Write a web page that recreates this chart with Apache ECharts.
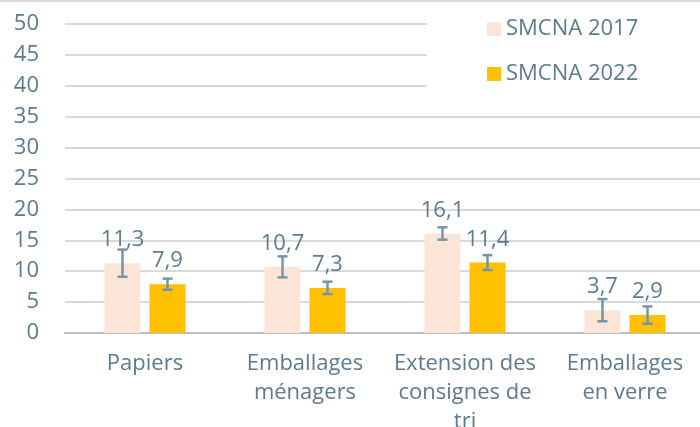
<!DOCTYPE html>
<html>
<head>
<meta charset="utf-8">
<script src="https://cdn.jsdelivr.net/npm/echarts@6/dist/echarts.min.js"></script>
<style>
  html, body { margin: 0; padding: 0; background: #fff; }
  #chart { width: 700px; height: 427px; }
</style>
</head>
<body>
<div id="chart"></div>
<script>
// données
const categories = ['Papiers', 'Emballages\nménagers', 'Extension des\nconsignes de\ntri', 'Emballages\nen verre'];
const seriesNames = ['SMCNA 2017', 'SMCNA 2022'];
const values2017 = [11.3, 10.7, 16.1, 3.7];
const values2022 = [7.9, 7.3, 11.4, 2.9];
const errors2017 = [2.2, 1.7, 1.0, 1.8];
const errors2022 = [0.9, 1.0, 1.2, 1.4];
const yTicks = [0, 5, 10, 15, 20, 25, 30, 35, 40, 45, 50];

const textColor = '#5b7b8e';
const errColor = '#7196ac';
const barWidth = 36;
const barGapPx = 9;
const fontFamily = '"Open Sans", sans-serif';
const fontSize = 22;

// barre d'erreur centrée sur la barre du groupe
function errorSeries(name, values, errors, offset) {
  return {
    type: 'custom',
    name: name + ' err',
    z: 5,
    silent: true,
    data: values.map((v, i) => [i, v - errors[i], v + errors[i]]),
    renderItem: function(params, api) {
      const top = api.coord([api.value(0), api.value(2)]);
      const bot = api.coord([api.value(0), api.value(1)]);
      const x = top[0] + offset;
      const style = { stroke: errColor, lineWidth: 2.5 };
      return {
        type: 'group',
        children: [
          { type: 'line', shape: { x1: x, y1: top[1], x2: x, y2: bot[1] }, style: style },
          { type: 'line', shape: { x1: x - 5, y1: top[1], x2: x + 5, y2: top[1] }, style: style },
          { type: 'line', shape: { x1: x - 5, y1: bot[1], x2: x + 5, y2: bot[1] }, style: style }
        ]
      };
    }
  };
}

const chart = echarts.init(document.getElementById('chart'));
const half = (barWidth + barGapPx) / 2;
const labelStyle = {
  show: true,
  position: 'top',
  distance: 12,
  color: textColor,
  fontSize: fontSize,
  fontFamily: fontFamily,
  formatter: (p) => String(p.value).replace('.', ',')
};

const option = {
  backgroundColor: '#fff',
  animation: false,
  graphic: {
    elements: [
      { type: 'rect', left: 0, top: 0, z: 100, shape: { width: 700, height: 2 }, style: { fill: '#d9d9d9' } },
      // fond blanc de la légende (masque les lignes 40 à 50)
      { type: 'rect', left: 427, top: 6, z: 100, shape: { width: 273, height: 100 }, style: { fill: '#ffffff' } }
    ]
  },
  legend: {
    data: seriesNames,
    orient: 'vertical',
    left: 487,
    top: 18,
    padding: 0,
    z: 200,
    icon: 'rect',
    itemWidth: 14,
    itemHeight: 14,
    itemGap: 23,
    textStyle: { color: textColor, fontSize: fontSize, fontFamily: fontFamily }
  },
  grid: { left: 65, top: 24, width: 640, height: 309, outerBoundsMode: 'none' },
  xAxis: {
    type: 'category',
    data: categories,
    axisLine: { lineStyle: { color: '#bfbfbf', width: 2 } },
    axisTick: { show: false },
    axisLabel: {
      color: textColor,
      fontSize: fontSize,
      fontFamily: fontFamily,
      lineHeight: 29,
      margin: 16,
      interval: 0
    }
  },
  yAxis: {
    type: 'value',
    min: yTicks[0],
    max: yTicks[yTicks.length - 1],
    interval: 5,
    axisLine: { show: false },
    axisTick: { show: false },
    splitLine: { lineStyle: { color: '#d9d9d9', width: 2 } },
    axisLabel: { color: textColor, fontSize: fontSize, fontFamily: fontFamily, margin: 26 }
  },
  series: [
    {
      type: 'bar',
      name: seriesNames[0],
      data: values2017,
      barWidth: barWidth,
      barGap: (barGapPx / barWidth * 100) + '%',
      itemStyle: { color: '#fbe5d6' },
      label: labelStyle
    },
    {
      type: 'bar',
      name: seriesNames[1],
      data: values2022,
      barWidth: barWidth,
      itemStyle: { color: '#ffc000' },
      label: labelStyle
    },
    errorSeries(seriesNames[0], values2017, errors2017, -half),
    errorSeries(seriesNames[1], values2022, errors2022, half)
  ]
};

chart.setOption(option);
</script>
</body>
</html>
